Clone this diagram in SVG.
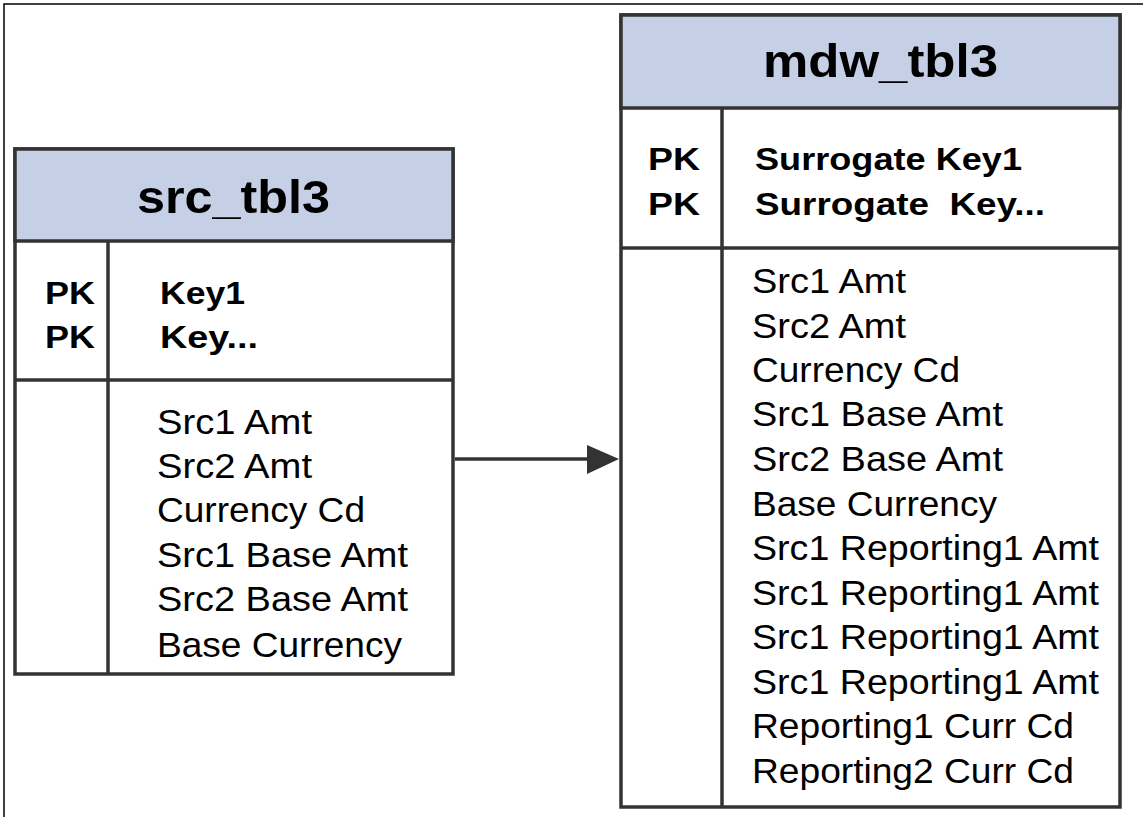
<svg xmlns="http://www.w3.org/2000/svg" width="1143" height="817" viewBox="0 0 1143 817">
<style>
.frame{fill:none;stroke:#000;stroke-width:1.5}
.box{fill:#fff;stroke:#333;stroke-width:3.5}
.hdr{fill:#c5d0e6;stroke:#333;stroke-width:3.5}
.ln{stroke:#333;stroke-width:3.5;fill:none}
.title{font-family:"Liberation Sans",Arial,sans-serif;font-weight:bold;font-size:46px;fill:#000}
.pk{font-family:"Liberation Sans",Arial,sans-serif;font-weight:bold;font-size:31px;fill:#000}
.col{font-family:"Liberation Sans",Arial,sans-serif;font-size:35px;fill:#000}
</style>
<rect class="frame" x="4" y="4" width="1150" height="830"/>
<g id="src_tbl3">
<rect class="box" x="15" y="149" width="438" height="525"/>
<rect class="hdr" x="15" y="149" width="438" height="92"/>
<line class="ln" x1="108" y1="241" x2="108" y2="674"/>
<line class="ln" x1="15" y1="380" x2="453" y2="380"/>
<text class="title" x="137" y="213" textLength="193" lengthAdjust="spacingAndGlyphs">src_tbl3</text>
<text class="pk" x="45" y="304" textLength="50" lengthAdjust="spacingAndGlyphs">PK</text>
<text class="pk" x="45" y="348" textLength="50" lengthAdjust="spacingAndGlyphs">PK</text>
<text class="pk" x="160" y="304" textLength="85" lengthAdjust="spacingAndGlyphs">Key1</text>
<text class="pk" x="160" y="348" textLength="98" lengthAdjust="spacingAndGlyphs">Key...</text>
<text class="col" x="157" y="434" textLength="155" lengthAdjust="spacingAndGlyphs">Src1 Amt</text>
<text class="col" x="157" y="478" textLength="155" lengthAdjust="spacingAndGlyphs">Src2 Amt</text>
<text class="col" x="157" y="522" textLength="208" lengthAdjust="spacingAndGlyphs">Currency Cd</text>
<text class="col" x="157" y="567" textLength="251" lengthAdjust="spacingAndGlyphs">Src1 Base Amt</text>
<text class="col" x="157" y="611" textLength="251" lengthAdjust="spacingAndGlyphs">Src2 Base Amt</text>
<text class="col" x="157" y="657" textLength="245" lengthAdjust="spacingAndGlyphs">Base Currency</text>
</g>
<g id="mdw_tbl3">
<rect class="box" x="621" y="15" width="499" height="792"/>
<rect class="hdr" x="621" y="15" width="499" height="93"/>
<line class="ln" x1="722" y1="108" x2="722" y2="807"/>
<line class="ln" x1="621" y1="248" x2="1120" y2="248"/>
<text class="title" x="763" y="77" textLength="235" lengthAdjust="spacingAndGlyphs">mdw_tbl3</text>
<text class="pk" x="648" y="170" textLength="52" lengthAdjust="spacingAndGlyphs">PK</text>
<text class="pk" x="648" y="215" textLength="52" lengthAdjust="spacingAndGlyphs">PK</text>
<text class="pk" x="755" y="170" textLength="267" lengthAdjust="spacingAndGlyphs">Surrogate Key1</text>
<text class="pk" x="755" y="215" textLength="290" lengthAdjust="spacingAndGlyphs" xml:space="preserve">Surrogate  Key...</text>
<text class="col" x="752" y="293" textLength="154" lengthAdjust="spacingAndGlyphs">Src1 Amt</text>
<text class="col" x="752" y="338" textLength="154" lengthAdjust="spacingAndGlyphs">Src2 Amt</text>
<text class="col" x="752" y="382" textLength="208" lengthAdjust="spacingAndGlyphs">Currency Cd</text>
<text class="col" x="752" y="426" textLength="251" lengthAdjust="spacingAndGlyphs">Src1 Base Amt</text>
<text class="col" x="752" y="471" textLength="251" lengthAdjust="spacingAndGlyphs">Src2 Base Amt</text>
<text class="col" x="752" y="516" textLength="245" lengthAdjust="spacingAndGlyphs">Base Currency</text>
<text class="col" x="752" y="560" textLength="347" lengthAdjust="spacingAndGlyphs">Src1 Reporting1 Amt</text>
<text class="col" x="752" y="605" textLength="347" lengthAdjust="spacingAndGlyphs">Src1 Reporting1 Amt</text>
<text class="col" x="752" y="649" textLength="347" lengthAdjust="spacingAndGlyphs">Src1 Reporting1 Amt</text>
<text class="col" x="752" y="694" textLength="347" lengthAdjust="spacingAndGlyphs">Src1 Reporting1 Amt</text>
<text class="col" x="752" y="738" textLength="322" lengthAdjust="spacingAndGlyphs">Reporting1 Curr Cd</text>
<text class="col" x="752" y="783" textLength="322" lengthAdjust="spacingAndGlyphs">Reporting2 Curr Cd</text>
</g>
<g id="connectors">
<line class="ln" x1="455" y1="459" x2="592" y2="459"/>
<polygon points="587,445 619,459 587,474" fill="#333"/>
</g>
</svg>
